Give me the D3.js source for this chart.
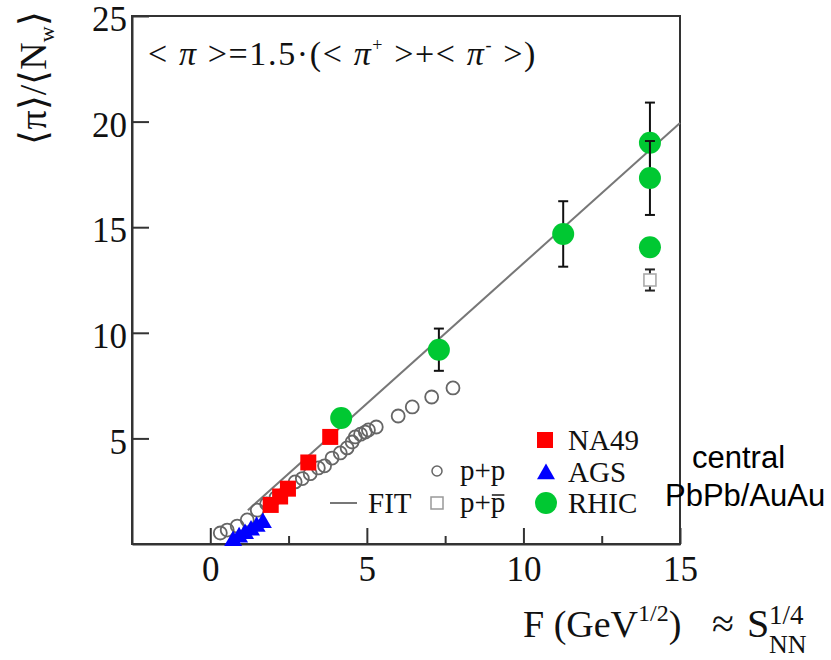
<!DOCTYPE html>
<html>
<head>
<meta charset="utf-8">
<script src="https://cdn.jsdelivr.net/npm/d3@7"></script>
<style>
  body { margin: 0; background: #fff; }
  svg { display: block; }
  .serif { font-family: "Liberation Serif", "Times New Roman", serif; fill: #111; }
  .sans { font-family: "Liberation Sans", Arial, sans-serif; fill: #000; }
</style>
</head>
<body>
<svg id="chart" width="831" height="660"></svg>
<script>
// values
const ppF = [0.32, 0.54, 0.86, 1.18, 1.5, 1.8, 2.1, 2.45, 2.71, 2.94, 3.19, 3.45, 3.65, 3.89, 4.15, 4.37, 4.53, 4.63, 4.8, 4.95, 5.05, 5.3, 6.0, 6.45, 7.07, 7.75];
const ppY = [0.52, 0.66, 0.85, 1.14, 1.6, 1.9, 2.2, 2.6, 2.94, 3.1, 3.33, 3.6, 3.7, 4.07, 4.31, 4.55, 4.83, 5.07, 5.2, 5.3, 5.4, 5.54, 6.06, 6.49, 6.96, 7.39];

const ppbarF = [14.04];
const ppbarY = [12.5];
const ppbarErr = [0.5];

const agsF = [0.73, 0.92, 1.11, 1.3, 1.48, 1.68];
const agsY = [0.15, 0.32, 0.48, 0.65, 0.82, 1.0];

const na49F = [1.93, 2.23, 2.48, 3.13, 3.83];
const na49Y = [1.85, 2.25, 2.62, 3.86, 5.07];

const rhicF = [4.18, 7.3, 11.27, 14.04, 14.04, 14.04];
const rhicY = [5.97, 9.2, 14.68, 19.0, 17.33, 14.05];
const rhicErr = [0, 1.0, 1.55, 1.9, 1.75, 0];

const fitF = [1.2, 15];
const fitY = [1.6, 19.93];

const xMajor = [0, 5, 10, 15];
const xMinor = [2.5, 7.5, 12.5];
const yMajor = [5, 10, 15, 20, 25];

const svg = d3.select("#chart");

const x = d3.scaleLinear().domain([-2.5, 15]).range([132, 680]);
const y = d3.scaleLinear().domain([0, 25]).range([544, 16]);

const axisColor = "#333";

// axes
svg.append("g")
  .attr("transform", "translate(0,544)")
  .call(d3.axisBottom(x).tickValues(xMajor).tickSize(-16).tickSizeOuter(0).tickPadding(12));
svg.append("g")
  .attr("transform", "translate(0,544)")
  .call(d3.axisBottom(x).tickValues(xMinor).tickSize(-8).tickSizeOuter(0).tickFormat(""))
  .call(g => g.select(".domain").remove());
const gy = svg.append("g")
  .attr("transform", "translate(132,0)")
  .call(d3.axisLeft(y).tickValues(yMajor).tickSize(-17).tickSizeOuter(0).tickPadding(5));

svg.selectAll(".tick line, .domain").attr("stroke", axisColor).attr("stroke-width", 2);
svg.selectAll(".tick text")
  .attr("class", "serif")
  .style("font-size", "35px")
  .attr("fill", "#111");
gy.selectAll(".tick text").attr("dy", "0.42em");

// frame
svg.append("rect")
  .attr("x", x(-2.5)).attr("y", y(25))
  .attr("width", x(15) - x(-2.5)).attr("height", y(0) - y(25))
  .attr("fill", "none").attr("stroke", axisColor).attr("stroke-width", 2);

// fit line
svg.append("line")
  .attr("x1", x(fitF[0])).attr("y1", y(fitY[0]))
  .attr("x2", x(fitF[1])).attr("y2", y(fitY[1]))
  .attr("stroke", "#777").attr("stroke-width", 2);

// p+p
svg.append("g").selectAll("circle")
  .data(ppF.map((f, i) => ({ f, v: ppY[i] })))
  .join("circle")
  .attr("cx", d => x(d.f)).attr("cy", d => y(d.v)).attr("r", 6.5)
  .attr("fill", "none").attr("stroke", "#666").attr("stroke-width", 1.8);

// error bar helper
function errBar(g, f, v, e, color) {
  if (!e) return;
  g.append("line").attr("x1", x(f)).attr("x2", x(f)).attr("y1", y(v - e)).attr("y2", y(v + e))
    .attr("stroke", color).attr("stroke-width", 2);
  [v - e, v + e].forEach(c => {
    g.append("line").attr("x1", x(f) - 5).attr("x2", x(f) + 5).attr("y1", y(c)).attr("y2", y(c))
      .attr("stroke", color).attr("stroke-width", 2);
  });
}

// p+pbar
const gpb = svg.append("g");
ppbarF.forEach((f, i) => {
  errBar(gpb, f, ppbarY[i], ppbarErr[i], "#222");
  gpb.append("rect")
    .attr("x", x(f) - 6).attr("y", y(ppbarY[i]) - 6).attr("width", 12).attr("height", 12)
    .attr("fill", "#fff").attr("stroke", "#aaa").attr("stroke-width", 1.6);
});

// AGS
svg.append("g").selectAll("path")
  .data(agsF.map((f, i) => ({ f, v: agsY[i] })))
  .join("path")
  .attr("d", d3.symbol(d3.symbolTriangle, 140))
  .attr("transform", d => `translate(${x(d.f)},${y(d.v)})`)
  .attr("fill", "#0000ff");

// NA49
svg.append("g").selectAll("rect")
  .data(na49F.map((f, i) => ({ f, v: na49Y[i] })))
  .join("rect")
  .attr("x", d => x(d.f) - 8).attr("y", d => y(d.v) - 8)
  .attr("width", 16).attr("height", 16)
  .attr("fill", "#ff0000");

// RHIC
const grh = svg.append("g");
rhicF.forEach((f, i) => {
  const g = grh.append("g");
  errBar(g, f, rhicY[i], rhicErr[i], "#111");
  g.append("circle").attr("cx", x(f)).attr("cy", y(rhicY[i])).attr("r", 11).attr("fill", "#00c832");
});

// formula
const formula = svg.append("text").attr("class", "serif")
  .attr("x", 148).attr("y", 65).style("font-size", "34px");
formula.append("tspan").text("< ");
formula.append("tspan").style("font-style", "italic").text("π");
formula.append("tspan").text(" >=1.5·(< ");
formula.append("tspan").style("font-style", "italic").text("π");
formula.append("tspan").attr("dy", -14).style("font-size", "18px").text("+");
formula.append("tspan").attr("dy", 14).text(" >+< ");
formula.append("tspan").style("font-style", "italic").text("π");
formula.append("tspan").attr("dy", -14).style("font-size", "18px").text("-");
formula.append("tspan").attr("dy", 14).text(" >)");
// stretch to the width seen in the picture
const fw = formula.node().getComputedTextLength();
const nChars = formula.text().length;
formula.style("letter-spacing", ((389 - fw) / nChars) + "px");

// y label
const yl = svg.append("text").attr("class", "serif")
  .attr("transform", "translate(46,78) rotate(-90)")
  .attr("text-anchor", "middle").style("font-size", "38px").attr("fill", "#333");
yl.append("tspan").text("⟨π⟩/⟨N");
yl.append("tspan").attr("dy", 8).style("font-size", "22px").text("w");
yl.append("tspan").attr("dy", -8).text("⟩");

// x label
const xl = svg.append("text").attr("class", "serif")
  .attr("x", 523).attr("y", 637).style("font-size", "38px");
xl.append("tspan").text("F (GeV");
xl.append("tspan").attr("dy", -16).style("font-size", "24px").text("1/2");
xl.append("tspan").attr("dy", 16).text(")");

svg.append("text").attr("class", "serif").attr("x", 712).attr("y", 637).style("font-size", "40px").text("≈");
svg.append("text").attr("class", "serif").attr("x", 747).attr("y", 637).style("font-size", "40px").text("S");
svg.append("text").attr("class", "serif").attr("x", 769).attr("y", 624).style("font-size", "27px").text("1/4");
svg.append("text").attr("class", "serif").attr("x", 769).attr("y", 653).style("font-size", "26px").text("NN");

// central PbPb/AuAu
svg.append("text").attr("class", "sans").attr("x", 692).attr("y", 468).style("font-size", "31px").text("central");
svg.append("text").attr("class", "sans").attr("x", 665).attr("y", 506).style("font-size", "31px").text("PbPb/AuAu");

// legend
const leg = svg.append("g");
leg.append("rect").attr("x", 537).attr("y", 432).attr("width", 16).attr("height", 16).attr("fill", "#ff0000");
leg.append("path").attr("d", d3.symbol(d3.symbolTriangle, 140)).attr("transform", "translate(546,474)").attr("fill", "#0000ff");
leg.append("circle").attr("cx", 546).attr("cy", 503).attr("r", 11).attr("fill", "#00c832");
leg.append("circle").attr("cx", 437).attr("cy", 471).attr("r", 5).attr("fill", "none").attr("stroke", "#666").attr("stroke-width", 1.5);
leg.append("rect").attr("x", 431).attr("y", 497).attr("width", 12).attr("height", 12).attr("fill", "none").attr("stroke", "#999").attr("stroke-width", 1.5);
leg.append("line").attr("x1", 330).attr("x2", 357).attr("y1", 503).attr("y2", 503).attr("stroke", "#777").attr("stroke-width", 2);

const legText = [
  { t: "NA49", x: 568, y: 450 },
  { t: "AGS", x: 568, y: 482 },
  { t: "RHIC", x: 568, y: 513 },
  { t: "p+p", x: 460, y: 480 },
  { t: "FIT", x: 368, y: 513 }
];
leg.selectAll("text.lt").data(legText).join("text")
  .attr("class", "serif lt").attr("x", d => d.x).attr("y", d => d.y)
  .style("font-size", "29px").attr("fill", "#222").text(d => d.t);
const pbar = leg.append("text").attr("class", "serif").attr("x", 460).attr("y", 512)
  .style("font-size", "29px").attr("fill", "#222");
pbar.append("tspan").text("p+");
pbar.append("tspan").text("p");
// bar over the antiproton p
const pStart = 460 + pbar.node().getSubStringLength(0, 2);
const pLen = pbar.node().getSubStringLength(2, 1);
leg.append("line").attr("x1", pStart + 1).attr("x2", pStart + pLen - 1)
  .attr("y1", 512 - 17).attr("y2", 512 - 17).attr("stroke", "#222").attr("stroke-width", 1.6);
</script>
</body>
</html>
